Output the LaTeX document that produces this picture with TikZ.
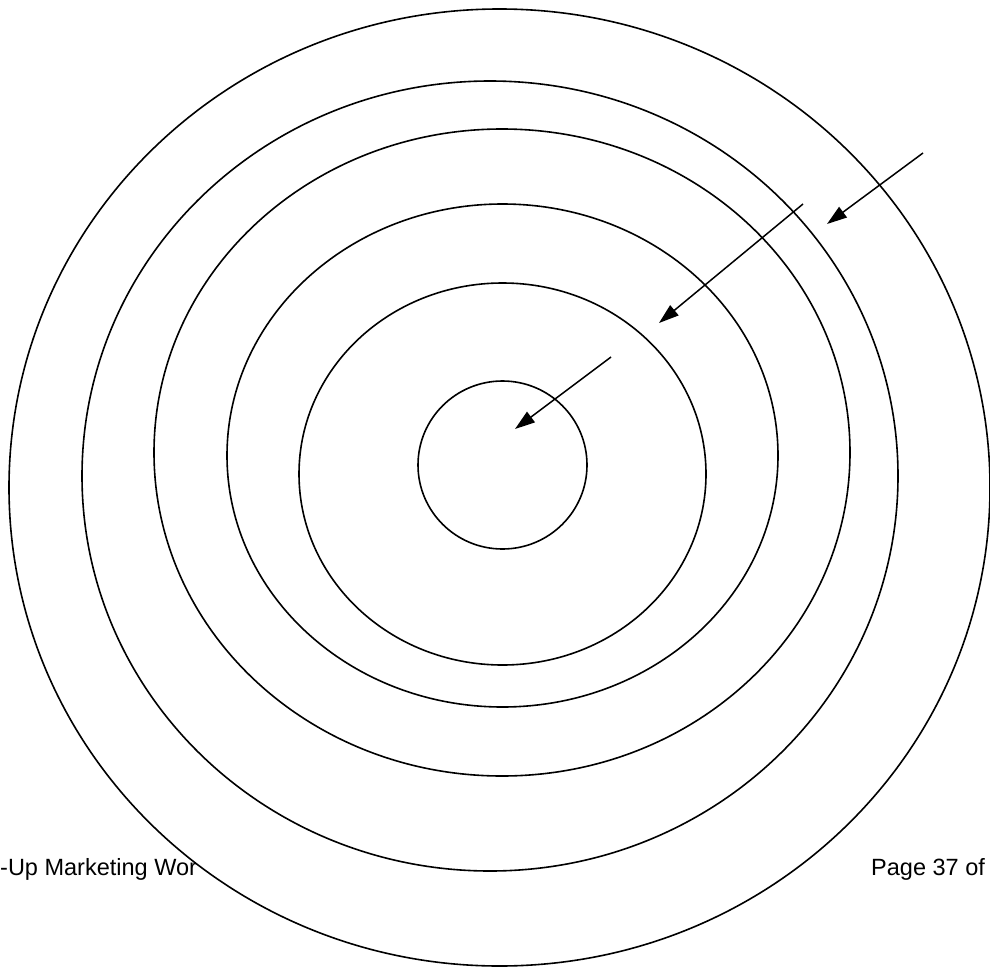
\documentclass[tikz,border=0pt]{standalone}
\usepackage{fontspec}
\setmainfont{Liberation Sans}
\usetikzlibrary{arrows.meta}

\begin{document}
\begin{tikzpicture}[
  x=1pt, y=-1pt,
  ring/.style={draw=black, line width=1.6pt, fill=white},
  arrow/.style={-{Triangle[length=20pt, width=13pt]}, line width=1.5pt, draw=black},
  footer/.style={anchor=base west, inner sep=0pt,
    font=\fontsize{23.5}{28}\selectfont},
]
\useasboundingbox (0,0) rectangle (990,966);

% === Footer text (behind the rings) ===
\node[footer] (title) at (0,875) {-Up Marketing Wor};
\node[footer] (page) at (871,875) {Page 37 of};

% === Rings, outside in ===
\draw[ring] (499.5,487.5) ellipse [x radius=490.5, y radius=478.5];
\draw[ring] (490,476) ellipse [x radius=408, y radius=395];
\draw[ring] (502,452.5) ellipse [x radius=348, y radius=323.5];
\draw[ring] (502.5,455.5) ellipse [x radius=275.5, y radius=251.5];
\draw[ring] (502.5,474) ellipse [x radius=203.5, y radius=191];
\draw[ring] (502.5,465) ellipse [x radius=84.5, y radius=84];

% === Arrows pointing inward ===
\coordinate (outer_from) at (923,153);
\coordinate (outer_to) at (827,224);
\coordinate (mid_from) at (803,204);
\coordinate (mid_to) at (659,323);
\coordinate (core_from) at (611,357);
\coordinate (core_to) at (515,429);

\draw[arrow] (outer_from) -- (outer_to);
\draw[arrow] (mid_from) -- (mid_to);
\draw[arrow] (core_from) -- (core_to);

\end{tikzpicture}
\end{document}
